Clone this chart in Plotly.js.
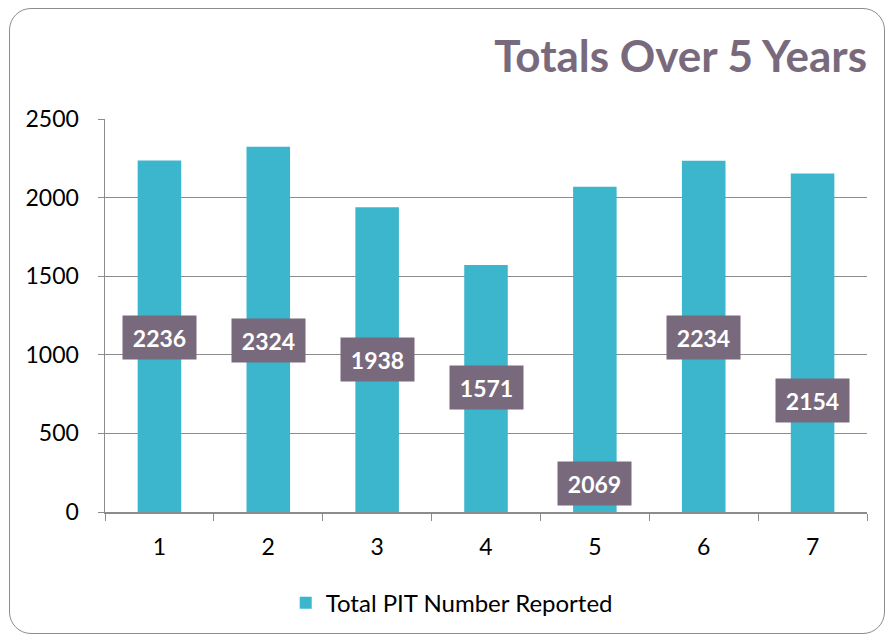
<!DOCTYPE html>
<html><head><meta charset="utf-8">
<script src="https://cdn.plot.ly/plotly-3.0.1.min.js"></script>
<style>
html,body{margin:0;padding:0;background:#fff;width:889px;height:639px;overflow:hidden;}
#frame{position:absolute;left:9px;top:8px;width:874px;height:624px;border:1.5px solid #8c8c8c;border-radius:22px;pointer-events:none;}
#chart{position:absolute;left:0;top:0;width:889px;height:639px;}
</style></head>
<body>
<div id="frame"></div>
<div id="chart"></div>
<script>
const categories = ["1","2","3","4","5","6","7"];
const values = [2236, 2324, 1938, 1571, 2069, 2234, 2154];
const seriesName = "Total PIT Number Reported";
const yTicks = [0, 500, 1000, 1500, 2000, 2500];
// label box centre heights (layout only)
const labelY = [1113, 1094, 967, 789, 184, 1113, 712];

const FONT = "Lato, 'DejaVu Sans', sans-serif";
const annotations = categories.map((c, i) => ({
  x: i, y: labelY[i], xref: "x", yref: "y",
  text: "<b>" + values[i] + "</b>", showarrow: false,
  bgcolor: "#786a7c", borderpad: 7, width: 59, height: 29,
  font: {family: FONT, size: 23, color: "#ffffff"}
}));

Plotly.newPlot("chart", [{
  type: "bar", x: categories, y: values, name: seriesName,
  marker: {color: "#3cb6cc"}, width: 0.4, showlegend: true
}], {
  width: 889, height: 639,
  paper_bgcolor: "rgba(0,0,0,0)", plot_bgcolor: "rgba(0,0,0,0)",
  margin: {l: 105, r: 22, t: 119, b: 127},
  font: {family: FONT, color: "#000"},
  title: {text: "<b>Totals Over 5 Years</b>", xref: "paper", x: 1, xanchor: "right",
          yref: "container", y: 0.912, yanchor: "middle",
          font: {family: FONT, size: 44, color: "#786a7c"}},
  xaxis: {type: "category", range: [-0.5, 6.5], tickson: "boundaries", ticks: "outside", ticklen: 7,
          tickcolor: "#8c8c8c", showline: true, linecolor: "#8c8c8c", linewidth: 1.5,
          showgrid: false, tickfont: {size: 23, color: "#000"}, ticklabelstandoff: 14},
  yaxis: {range: [0, 2500], tickvals: yTicks, ticks: "outside", ticklen: 6,
          tickcolor: "#8c8c8c", showline: true, linecolor: "#8c8c8c", linewidth: 1.5,
          gridcolor: "#8c8c8c", gridwidth: 1.2, zeroline: false,
          tickfont: {size: 23, color: "#000"}, ticklabelstandoff: 14},
  legend: {orientation: "h", x: 0.455, xanchor: "center", y: -0.232, yanchor: "middle",
           font: {size: 24, color: "#000"}},
  annotations: annotations,
  bargap: 0.6
}, {displayModeBar: false, staticPlot: true});
</script>
</body></html>
